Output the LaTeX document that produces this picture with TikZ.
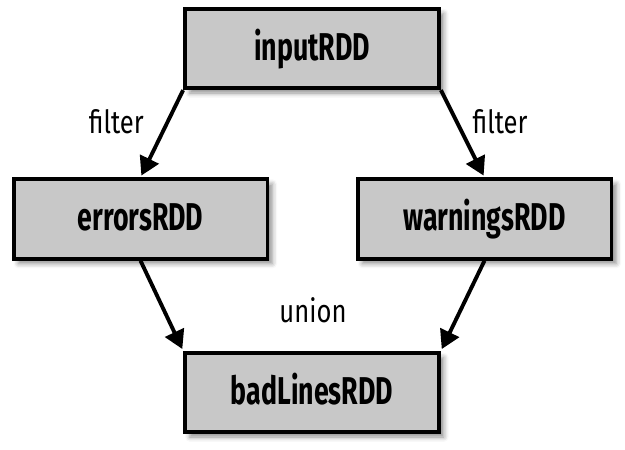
\documentclass[tikz,border=0pt]{standalone}
\usepackage{fontspec}
\setmainfont{Fira Sans}
\newfontfamily\boxfont[FakeStretch=0.69]{Fira Sans}
\newfontfamily\labfont[FakeStretch=0.8]{Fira Sans}
\usetikzlibrary{arrows.meta,shadows.blur}
\definecolor{boxgray}{RGB}{200,200,200}
\tikzset{
  rddbox/.style={draw=black, line width=4pt, fill=boxgray, minimum width=262pt,
    minimum height=82pt, inner sep=0pt, text height=24pt, text depth=0pt,
    font=\boxfont\bfseries\fontsize{40}{42}\selectfont,
    blur shadow={shadow xshift=5pt, shadow yshift=-5pt, shadow blur radius=5pt, shadow opacity=45}},
  flow/.style={line width=4pt, -{Triangle[length=19pt,width=21pt]}, shorten >=2pt},
  lab/.style={anchor=base, inner sep=0pt, font=\labfont\fontsize{33}{35}\selectfont}
}
\begin{document}
\begin{tikzpicture}[x=1pt,y=-1pt]
\useasboundingbox (0,0) rectangle (645,464);
\node[rddbox] (input) at (322,50) {inputRDD};
\node[rddbox] (errors) at (145,226) {errorsRDD};
\node[rddbox] (warnings) at (500,226) {warningsRDD};
\node[rddbox] (bad) at (322,405) {badLinesRDD};
\draw[flow] (input.south west) -- (errors.north);
\draw[flow] (input.south east) -- (warnings.north);
\draw[flow] (errors.south) -- (bad.north west);
\draw[flow] (warnings.south) -- (bad.north east);
\node[lab] (f1) at (120,138) {filter};
\node[lab] (f2) at (516,138) {filter};
\node[lab] (u) at (323,333) {union};
\end{tikzpicture}
\end{document}
